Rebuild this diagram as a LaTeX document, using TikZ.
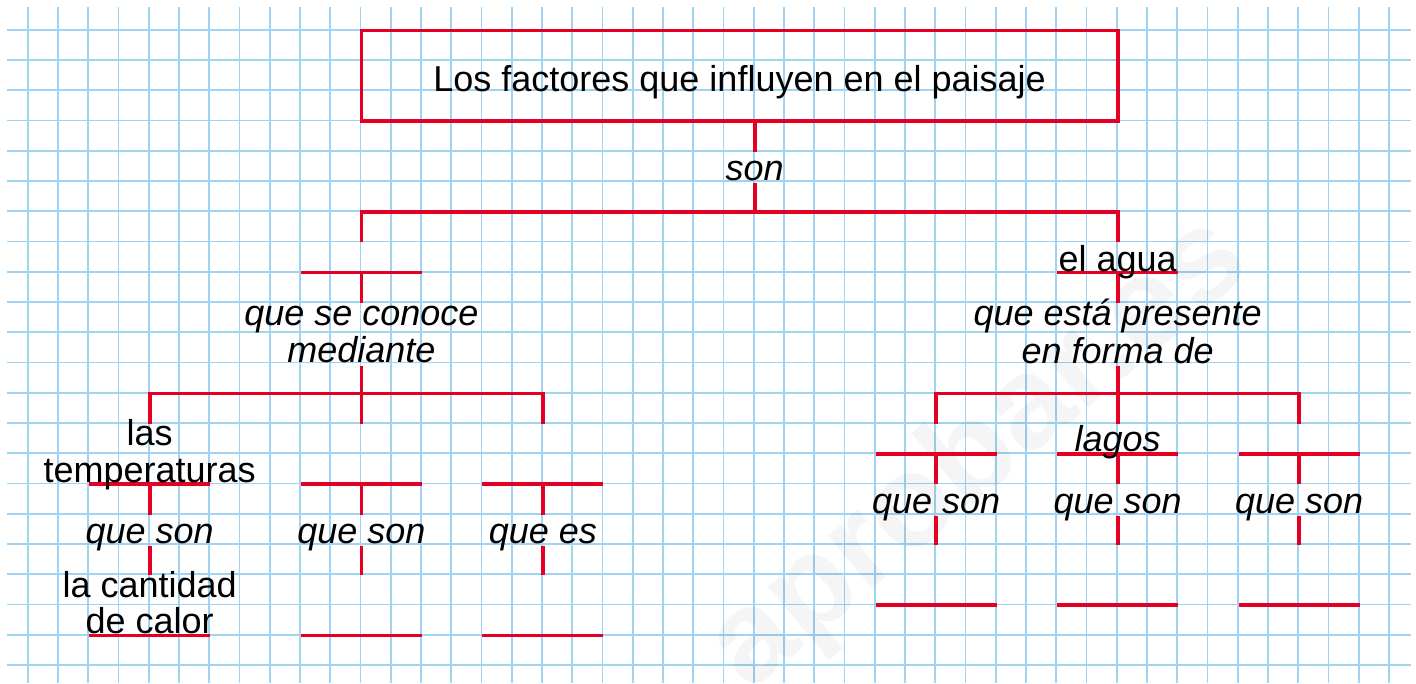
\documentclass[tikz,border=0pt]{standalone}
\usepackage{fontspec}
\setmainfont{Liberation Sans}
\definecolor{gridblue}{RGB}{160,210,242}
\definecolor{conred}{RGB}{227,0,36}
\newcommand{\gX}[1]{28.7+30.25*(#1)}
\newcommand{\gY}[1]{30.5+30.25*(#1)}
\newcommand{\cmfont}{\fontsize{36}{40}\selectfont}
\pgfdeclarelayer{lines}
\pgfsetlayers{lines,main}
\begin{document}
\begin{tikzpicture}[x=1pt,y=-1pt,
  conn/.style={draw=conred,line width=3.8pt},
  up/.style={inner sep=0pt,font=\cmfont},
  it/.style={inner sep=0pt,font=\cmfont\itshape},
  lab/.style={it,anchor=north,text height=29pt,text depth=2pt},
  titlebox/.style={draw=conred,line width=3.8pt,minimum width=756.25pt,minimum height=90.75pt,inner sep=0pt,text height=32pt,text depth=0pt,font=\cmfont}]
\useasboundingbox (0,0) rectangle (1416,683);
% ---------- nodes ----------
\node[titlebox] (title) at (739.575,75.875) {Los factores que influyen en el paisaje};
\node[lab] (son) at ({\gX{24}},{\gY{4}}) {son};
% left branch
\node[it,anchor=north,text height=22.25pt] (con1) at ({\gX{11}},{\gY{9}}) {que se conoce};
\node[it,anchor=base,text depth=3.7pt] (con2) at ({\gX{11}},362) {mediante};
\node[up,anchor=north,text height=22pt] (las) at ({\gX{4}},{\gY{13}}) {las};
\node[up,anchor=base] (temp) at ({\gX{4}},482) {temperaturas};
\node[lab] (qs1) at ({\gX{4}},{\gY{16}}) {que son};
\node[up,anchor=north,text height=22pt] (cant) at ({\gX{4}},{\gY{18}}) {la cantidad};
\node[up,anchor=base] (calor) at ({\gX{4}},633.5) {de calor};
\node[lab] (qs2) at ({\gX{11}},{\gY{16}}) {que son};
\node[lab] (qe) at ({\gX{17}},{\gY{16}}) {que es};
% right branch
\node[up,anchor=north,text height=29.25pt] (agua) at ({\gX{36}},{\gY{7}}) {el agua};
\node[it,anchor=north,text height=22.25pt] (pres1) at ({\gX{36}},{\gY{9}}) {que está presente};
\node[it,anchor=base,text depth=2.7pt] (pres2) at ({\gX{36}},363) {en forma de};
\node[it,anchor=north,text height=28pt] (lagos) at ({\gX{36}},{\gY{13}}) {lagos};
\node[lab] (qs3) at ({\gX{30}},{\gY{15}}) {que son};
\node[lab] (qs4) at ({\gX{36}},{\gY{15}}) {que son};
\node[lab] (qs5) at ({\gX{42}},{\gY{15}}) {que son};
% ---------- background, grid, connectors ----------
\begin{pgfonlayer}{lines}
\fill[white] (0,0) rectangle (1416,683);
\foreach \k in {0,...,45} \draw[gridblue,line width=1.7pt] ({27.7+30.25*\k},7) -- ({27.7+30.25*\k},683);
\foreach \j in {0,...,21} \draw[gridblue,line width=1.7pt] (7,{29.7+30.25*\j}) -- (1411,{29.7+30.25*\j});
\node[rotate=40,inner sep=0pt,font=\fontsize{130}{130}\selectfont\bfseries,text=black,text opacity=0.04] (wm) at (980,455) {aprobar.es};
% top
\coordinate (j0C) at ({\gX{24}},{\gY{6}});
\coordinate (j0L) at ({\gX{11}},{\gY{6}});
\coordinate (j0R) at ({\gX{36}},{\gY{6}});
\draw[conn] (son.north |- title.south) -- (son.north);
\draw[conn] (son.south) -- (j0C);
\draw[conn] ({\gX{11}},{\gY{7}}) -- (j0L) -- (j0R) -- (agua.north);
% left branch
\coordinate (bl1) at ({\gX{11}},{\gY{8}});
\draw[conn] ({\gX{9}},{\gY{8}}) -- ({\gX{13}},{\gY{8}});
\draw[conn] (bl1) -- (con1.north);
\draw[conn] (con2.south) -- ({\gX{11}},{\gY{13}});
\draw[conn] (las.north) -- ({\gX{4}},{\gY{12}}) -- ({\gX{17}},{\gY{12}}) -- ({\gX{17}},{\gY{13}});
% las temperaturas
\coordinate (u1) at ({\gX{4}},{\gY{15}});
\draw[conn] ({\gX{2}},{\gY{15}}) -- ({\gX{6}},{\gY{15}});
\draw[conn] (u1) -- (qs1.north);
\draw[conn] (qs1.south) -- (cant.north);
\draw[conn] ({\gX{2}},{\gY{20}}) -- ({\gX{6}},{\gY{20}});
% middle
\coordinate (u2) at ({\gX{11}},{\gY{15}});
\draw[conn] ({\gX{9}},{\gY{15}}) -- ({\gX{13}},{\gY{15}});
\draw[conn] (u2) -- (qs2.north);
\draw[conn] (qs2.south) -- ({\gX{11}},{\gY{18}});
\draw[conn] ({\gX{9}},{\gY{20}}) -- ({\gX{13}},{\gY{20}});
% right of left branch
\coordinate (u3) at ({\gX{17}},{\gY{15}});
\draw[conn] ({\gX{15}},{\gY{15}}) -- ({\gX{19}},{\gY{15}});
\draw[conn] (u3) -- (qe.north);
\draw[conn] (qe.south) -- ({\gX{17}},{\gY{18}});
\draw[conn] ({\gX{15}},{\gY{20}}) -- ({\gX{19}},{\gY{20}});
% right branch
\coordinate (ua) at ({\gX{36}},{\gY{8}});
\draw[conn] ({\gX{34}},{\gY{8}}) -- ({\gX{38}},{\gY{8}});
\draw[conn] (ua) -- (pres1.north);
\draw[conn] (pres2.south) -- (lagos.north);
\draw[conn] ({\gX{30}},{\gY{13}}) -- ({\gX{30}},{\gY{12}}) -- ({\gX{42}},{\gY{12}}) -- ({\gX{42}},{\gY{13}});
\foreach \c/\n in {30/qs3,36/qs4,42/qs5}{
  \draw[conn] ({\gX{\c-2}},{\gY{14}}) -- ({\gX{\c+2}},{\gY{14}});
  \draw[conn] ({\gX{\c}},{\gY{14}}) -- (\n.north);
  \draw[conn] (\n.south) -- ({\gX{\c}},{\gY{17}});
  \draw[conn] ({\gX{\c-2}},{\gY{19}}) -- ({\gX{\c+2}},{\gY{19}});
}
\end{pgfonlayer}
\end{tikzpicture}
\end{document}
